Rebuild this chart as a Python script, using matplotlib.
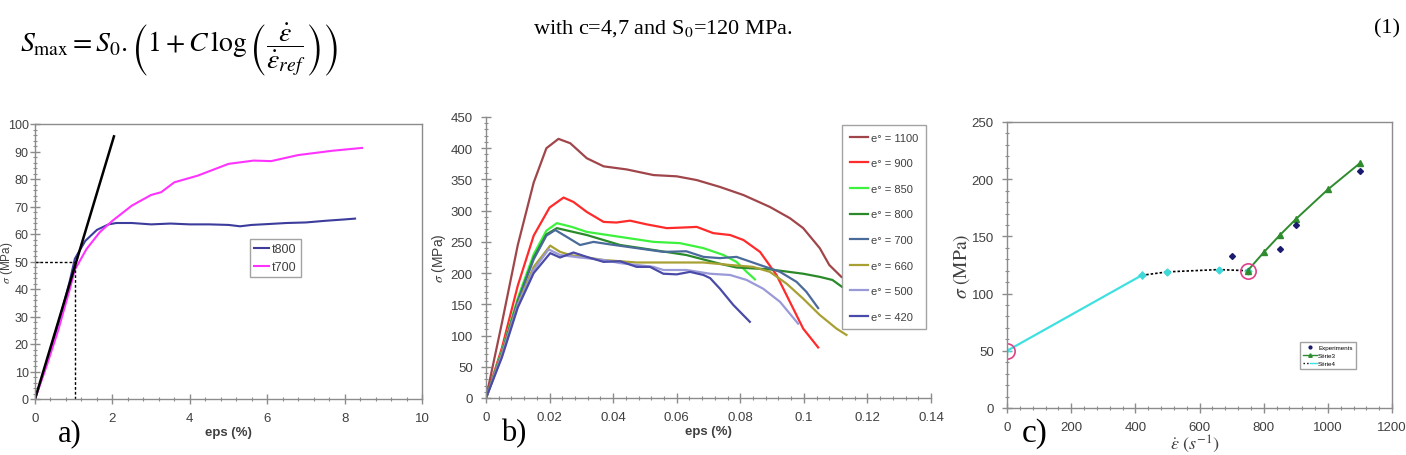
import matplotlib.pyplot as plt
from matplotlib.ticker import MultipleLocator, FuncFormatter
from matplotlib.lines import Line2D
from matplotlib.legend_handler import HandlerTuple

plt.rcParams['font.family'] = ['Liberation Sans', 'DejaVu Sans']
plt.rcParams['mathtext.fontset'] = 'stix'

W, H = 1406, 456

# ---- panel a data (eps %, MPa)
t800_eps = [0, 0.3, 0.6, 0.9, 1.03, 1.3, 1.6, 1.9, 2.1, 2.5, 3.0, 3.5, 4.0, 4.5, 5.0, 5.3, 5.6, 6.0, 6.5, 7.0, 7.5, 8.0, 8.27]
t800_sig = [0, 13, 27, 43, 51, 57.5, 61.5, 63.5, 64, 64, 63.5, 63.8, 63.5, 63.5, 63.3, 62.8, 63.3, 63.6, 64, 64.2, 64.8, 65.3, 65.6]
t700_eps = [0, 0.3, 0.6, 0.9, 1.03, 1.33, 1.67, 2.0, 2.5, 3.0, 3.26, 3.6, 4.2, 5.0, 5.65, 6.1, 6.8, 7.7, 8.45]
t700_sig = [0, 12, 25, 40, 47, 54.5, 60.6, 64.8, 70.3, 74.2, 75.2, 78.8, 81.2, 85.5, 86.7, 86.5, 88.7, 90.3, 91.3]
slope_eps = [0, 2.04]
slope_sig = [0, 95.5]
yield_eps = 1.03
yield_sig = 50

# ---- panel b data
rates = ['1100', '900', '850', '800', '700', '660', '500', '420']
colors_b = ['#a0464b', '#ff2a2a', '#3cf23c', '#2a8a2a', '#4a6a9a', '#a8a032', '#9a9ad8', '#4a4aa8']
eps_b = [
    [0, 0.005, 0.01, 0.015, 0.019, 0.0228, 0.0265, 0.0317, 0.037, 0.0443, 0.0527, 0.06, 0.0663, 0.0736, 0.081, 0.0893, 0.0956, 0.0998, 0.105, 0.108, 0.1118],
    [0, 0.005, 0.01, 0.015, 0.02, 0.0244, 0.0275, 0.0317, 0.037, 0.041, 0.0453, 0.0506, 0.0569, 0.062, 0.0663, 0.0715, 0.0768, 0.081, 0.0862, 0.0914, 0.0956, 0.0998, 0.1045],
    [0, 0.005, 0.01, 0.015, 0.019, 0.0223, 0.027, 0.0317, 0.0422, 0.0527, 0.061, 0.0684, 0.0747, 0.0788, 0.082, 0.0846],
    [0, 0.005, 0.01, 0.015, 0.019, 0.0223, 0.0317, 0.0422, 0.0527, 0.063, 0.0736, 0.0788, 0.0893, 0.0998, 0.105, 0.109, 0.112],
    [0, 0.005, 0.01, 0.015, 0.019, 0.0218, 0.0254, 0.0296, 0.0338, 0.039, 0.0474, 0.0558, 0.063, 0.0684, 0.0736, 0.0788, 0.0862, 0.0925, 0.0977, 0.1008, 0.1045],
    [0, 0.005, 0.01, 0.015, 0.0202, 0.0233, 0.0265, 0.0317, 0.037, 0.0474, 0.058, 0.0684, 0.0768, 0.084, 0.0893, 0.0946, 0.0998, 0.105, 0.1103, 0.1134],
    [0, 0.005, 0.01, 0.015, 0.0197, 0.0233, 0.0296, 0.037, 0.0422, 0.0527, 0.0558, 0.0631, 0.0705, 0.0768, 0.082, 0.0872, 0.0925, 0.0982],
    [0, 0.005, 0.01, 0.015, 0.0202, 0.0233, 0.0275, 0.0317, 0.037, 0.0422, 0.0474, 0.0516, 0.0558, 0.06, 0.0642, 0.0684, 0.0705, 0.0736, 0.0778, 0.083],
]
sig_b = [
    [0, 120, 245, 345, 400, 415, 408, 384, 371, 366, 357, 355, 349, 338, 325, 306, 288, 272, 240, 213, 194],
    [0, 80, 180, 260, 305, 321, 314, 298, 282, 281, 284, 278, 272, 273, 274, 264, 261, 253, 234, 197, 154, 111, 81],
    [0, 75, 160, 230, 268, 280, 274, 266, 258, 250, 248, 240, 229, 218, 202, 190],
    [0, 72, 155, 225, 262, 272, 261, 245, 237, 229, 215, 209, 206, 199, 194, 189, 178],
    [0, 72, 155, 222, 260, 269, 258, 245, 250, 246, 240, 234, 235, 226, 224, 226, 213, 202, 186, 170, 144],
    [0, 70, 150, 210, 244, 234, 229, 225, 221, 217, 217, 217, 213, 210, 202, 183, 159, 133, 111, 101],
    [0, 68, 148, 205, 238, 229, 225, 221, 216, 210, 205, 205, 199, 197, 189, 175, 154, 119],
    [0, 65, 145, 200, 232, 225, 233, 226, 218, 219, 210, 210, 199, 198, 202, 197, 192, 175, 149, 122],
]

# ---- panel c data
s4_rate = [0, 420]
s4_sig = [50, 116]
fit_rate = [420, 500, 660, 750]
fit_sig = [116, 119, 121, 120]
s3_rate = [750, 800, 850, 900, 1000, 1100]
s3_sig = [120, 136, 151, 165, 191, 214]
exp_rate = [700, 850, 900, 1100]
exp_sig = [133, 139, 160, 207]
circ_rate = [0, 750]
circ_sig = [50, 120]

GRAY = '#8c8c8c'
TXT = '#404040'


def box(l, t, r, b):
    return [l / W, 1 - b / H, (r - l) / W, (b - t) / H]


def style_axes(ax, xmaj, xmin, ymaj, ymin, frame=True):
    for s in ax.spines.values():
        s.set_color(GRAY)
        s.set_linewidth(1.0)
    if not frame:
        ax.spines['top'].set_visible(False)
        ax.spines['right'].set_visible(False)
    ax.xaxis.set_major_locator(MultipleLocator(xmaj))
    ax.xaxis.set_minor_locator(MultipleLocator(xmin))
    ax.yaxis.set_major_locator(MultipleLocator(ymaj))
    ax.yaxis.set_minor_locator(MultipleLocator(ymin))
    ax.xaxis.set_major_formatter(FuncFormatter(lambda v, p: '%g' % round(v, 6)))
    ax.tick_params(which='major', direction='inout', length=7, width=1, color=GRAY,
                   labelsize=9.5, labelcolor=TXT, pad=6)
    ax.tick_params(which='minor', direction='inout', length=3, width=0.8, color=GRAY)
    ax.tick_params(top=False, right=False, which='both')


fig = plt.figure(figsize=(W / 100, H / 100), dpi=100)
fig.patch.set_facecolor('white')

# header line
fig.text(20 / W, 1 - 50 / H,
         r'$S_{\max} = S_0 . \left( 1 + C\,\log \left( \dfrac{\dot{\varepsilon}}{\dot{\varepsilon}_{ref}} \right) \right)$',
         fontsize=20, va='center', ha='left')
fig.text(663 / W, 1 - 29 / H, r'with c=4,7 and S$_0$=120 MPa.', fontsize=16,
         family='Liberation Serif', va='center', ha='center')
fig.text(1400 / W, 1 - 29 / H, '(1)', fontsize=16, family='Liberation Serif', va='center', ha='right')

# ---- a)
ax1 = fig.add_axes(box(35, 125, 422, 400))
ax1.plot(t800_eps, t800_sig, color='#3c3c9c', lw=1.5, label='t800')
ax1.plot(t700_eps, t700_sig, color='#ff33ff', lw=1.5, label='t700')
ax1.plot(slope_eps, slope_sig, color='black', lw=1.8)
ax1.plot([0, yield_eps], [yield_sig, yield_sig], color='black', lw=1, ls=(0, (2, 1.5)))
ax1.plot([yield_eps, yield_eps], [0, yield_sig], color='black', lw=1, ls=(0, (2, 1.5)))
ax1.set_xlim(0, 10)
ax1.set_ylim(0, 100)
style_axes(ax1, 2, 0.4, 10, 2)
ax1.tick_params(axis='y', which='major', pad=1, labelsize=9)
ax1.set_xlabel('eps (%)', fontsize=9.5, fontweight='bold', color=TXT, labelpad=1)
ax1.set_ylabel(r'$\sigma$ (MPa)', fontsize=8.5, color=TXT)
ax1.yaxis.set_label_coords(-20 / 387, 0.5)
leg = ax1.legend(loc='upper left', bbox_to_anchor=((250 - 35) / 387, (400 - 240) / 275),
                 fontsize=9, frameon=True, fancybox=False, handlelength=1.2,
                 handletextpad=0.2, borderpad=0.35, labelspacing=0.45, borderaxespad=0)
leg.get_frame().set_edgecolor(GRAY)
for t in leg.get_texts():
    t.set_color(TXT)
fig.text(58 / W, 1 - 434 / H, 'a)', fontsize=22, family='Liberation Serif', va='center')

# ---- b)
ax2 = fig.add_axes(box(486, 118, 931, 399))
for e, s, c, r in zip(eps_b, sig_b, colors_b, rates):
    ax2.plot(e, s, color=c, lw=1.6, label='e° = ' + r)
ax2.set_xlim(0, 0.14)
ax2.set_ylim(0, 450)
style_axes(ax2, 0.02, 0.004, 50, 10, frame=False)
ax2.set_xlabel('eps (%)', fontsize=9.5, fontweight='bold', color=TXT, labelpad=1)
ax2.set_ylabel(r'$\sigma$ (MPa)', fontsize=10, color=TXT, labelpad=2)
leg2 = ax2.legend(loc='upper left', bbox_to_anchor=((842 - 486) / 445, (399 - 126) / 281),
                  fontsize=8, frameon=True, fancybox=False, handlelength=1.6,
                  handletextpad=0.3, borderpad=0.7, labelspacing=1.4, borderaxespad=0)
leg2.get_frame().set_edgecolor(GRAY)
for t in leg2.get_texts():
    t.set_color(TXT)
fig.text(501 / W, 1 - 434 / H, 'b)', fontsize=22, family='Liberation Serif', va='center')

# ---- c)
ax3 = fig.add_axes(box(1007, 123, 1392, 409))
ax3.plot(s4_rate, s4_sig, color='#40e0e0', lw=1.6, marker='+', ms=6)
ax3.plot(fit_rate, fit_sig, color='black', lw=1.2, ls=(0, (1.5, 1.2)))
ax3.plot(fit_rate, fit_sig, color='#40d8d8', lw=0, marker='D', ms=3.5)
ax3.plot(s3_rate, s3_sig, color='#2e8b2e', lw=1.4, marker='^', ms=5)
ax3.plot(exp_rate, exp_sig, color='#1a1a6e', lw=0, marker='D', ms=3)
ax3.plot(circ_rate, circ_sig, ls='none', marker='o', ms=11, mfc='none', mec='#e0408a', mew=1.2)
ax3.set_xlim(0, 1200)
ax3.set_ylim(0, 250)
style_axes(ax3, 200, 40, 50, 10)
ax3.set_ylabel(r'$\sigma\ \mathrm{(MPa)}$', fontsize=14, color=TXT, labelpad=0)
fig.text(1195 / W, 1 / H, r'$\dot{\varepsilon}\ (s^{-1})$', fontsize=13,
         color=TXT, ha='center', va='bottom')
h_exp = Line2D([], [], color='#1a1a6e', lw=0, marker='o', ms=2)
h_s3 = Line2D([], [], color='#2e8b2e', lw=1, marker='^', ms=2.5)
h_s4a = Line2D([], [], color='black', lw=1, ls=':')
h_s4b = Line2D([], [], color='#40e0e0', lw=1)
leg3 = ax3.legend([h_exp, h_s3, (h_s4a, h_s4b)], ['Experiments', 'Série3', 'Série4'],
                  handler_map={tuple: HandlerTuple(ndivide=None, pad=0)},
                  loc='upper left', bbox_to_anchor=((1300 - 1007) / 385, (409 - 343) / 286),
                  fontsize=4.5, frameon=True, fancybox=False, handlelength=2.2,
                  handletextpad=0.2, borderpad=0.5, labelspacing=0.4, borderaxespad=0)
leg3.get_frame().set_edgecolor(GRAY)
fig.text(1022 / W, 1 - 434 / H, 'c)', fontsize=24, family='Liberation Serif', va='center')

fig.savefig('out.png', dpi=100, facecolor='white')
